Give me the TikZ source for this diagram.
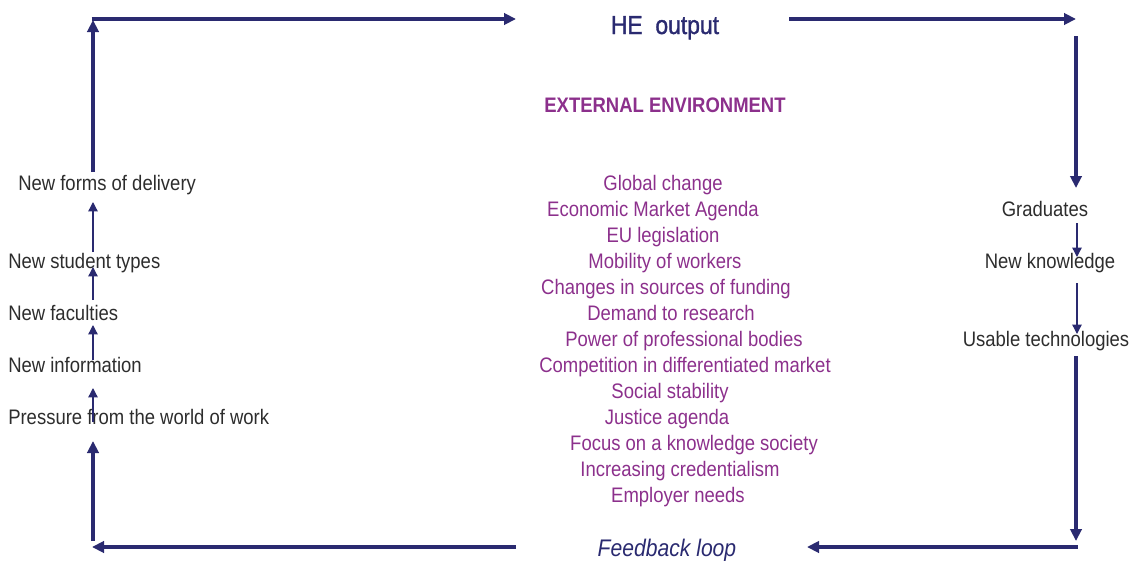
\documentclass[tikz,border=0pt]{standalone}
\usepackage{fontspec}
\setmainfont{Liberation Sans}[FakeStretch=0.88]
\newfontfamily\heavyfont{Liberation Sans}[FakeStretch=0.88,FakeBold=1.3]
\usetikzlibrary{arrows.meta}
\definecolor{navy}{RGB}{42,42,112}
\definecolor{purp}{RGB}{140,48,140}
\definecolor{txt}{RGB}{45,45,45}
\begin{document}
\begin{tikzpicture}[x=0.75pt,y=-0.75pt,
  bigarrow/.style={draw=navy,line width=3pt,-{Triangle[length=9pt,width=8.5pt]}},
  smallarrow/.style={draw=navy,line width=1pt,-{Triangle[length=7pt,width=7pt]}},
  body/.style={inner sep=0pt,font=\fontsize{15.75}{18}\selectfont},
  lefttxt/.style={body,text=txt,anchor=base west},
  righttxt/.style={body,text=txt,anchor=base},
  envitem/.style={body,text=purp,anchor=base}]
\useasboundingbox (0,0) rectangle (1133,564);

% titles
\node[inner sep=0pt,anchor=base,text=navy,font=\fontsize{19.5}{22}\heavyfont] (he) at (665,34) {HE\ \ output};
\node[body,anchor=base,text=purp,font=\fontsize{15.75}{18}\bfseries] (ext) at (665,112) {EXTERNAL ENVIRONMENT};
\node[inner sep=0pt,anchor=base,text=navy,font=\fontsize{18}{20}\itshape] (fb) at (667,556) {Feedback loop};

% environment list
\node[envitem] (e1) at (663,190) {Global change};
\node[envitem] (e2) at (653,216) {Economic Market Agenda};
\node[envitem] (e3) at (663,242) {EU legislation};
\node[envitem] (e4) at (665,268) {Mobility of workers};
\node[envitem] (e5) at (666,294) {Changes in sources of funding};
\node[envitem] (e6) at (671,320) {Demand to research};
\node[envitem] (e7) at (684,346) {Power of professional bodies};
\node[envitem] (e8) at (685,372) {Competition in differentiated market};
\node[envitem] (e9) at (670,398) {Social stability};
\node[envitem] (e10) at (667,424) {Justice agenda};
\node[envitem] (e11) at (694,450) {Focus on a knowledge society};
\node[envitem] (e12) at (680,476) {Increasing credentialism};
\node[envitem] (e13) at (678,502) {Employer needs};

% left column
\node[lefttxt] (l1) at (18,190) {New forms of delivery};
\node[lefttxt] (l2) at (8,268) {New student types};
\node[lefttxt] (l3) at (8,320) {New faculties};
\node[lefttxt] (l4) at (8,372) {New information};
\node[lefttxt] (l5) at (8,424) {Pressure from the world of work};

% right column
\node[righttxt] (r1) at (1045,216) {Graduates};
\node[righttxt] (r2) at (1050,268) {New knowledge};
\node[righttxt] (r3) at (1046,346) {Usable technologies};

% loop coordinates
\coordinate (a1) at (93,172);
\coordinate (a2) at (93,20);
\coordinate (a3) at (91.5,19);
\coordinate (a4) at (516,19);
\coordinate (b1) at (789,19);
\coordinate (b2) at (1076,19);
\coordinate (b3) at (1076,36);
\coordinate (b4) at (1076,188);
\coordinate (c1) at (1076,356);
\coordinate (c2) at (1076,541);
\coordinate (c3) at (1077.5,547);
\coordinate (c4) at (807,547);
\coordinate (d1) at (516,547);
\coordinate (d2) at (92,547);
\coordinate (d3) at (93,541);
\coordinate (d4) at (93,441);

\draw[bigarrow] (a1) -- (a2);
\draw[bigarrow] (a3) -- (a4);
\draw[bigarrow] (b1) -- (b2);
\draw[bigarrow] (b3) -- (b4);
\draw[bigarrow] (c1) -- (c2);
\draw[bigarrow] (c3) -- (c4);
\draw[bigarrow] (d1) -- (d2);
\draw[bigarrow] (d3) -- (d4);

% small arrows left
\coordinate (s1a) at (93,252); \coordinate (s1b) at (93,202);
\coordinate (s2a) at (93,300); \coordinate (s2b) at (93,267);
\coordinate (s3a) at (93,360); \coordinate (s3b) at (93,325);
\coordinate (s4a) at (93,422); \coordinate (s4b) at (93,388);
\draw[smallarrow] (s1a) -- (s1b);
\draw[smallarrow] (s2a) -- (s2b);
\draw[smallarrow] (s3a) -- (s3b);
\draw[smallarrow] (s4a) -- (s4b);

% small arrows right
\coordinate (t1a) at (1077,223); \coordinate (t1b) at (1077,257);
\coordinate (t2a) at (1077,283); \coordinate (t2b) at (1077,334);
\draw[smallarrow] (t1a) -- (t1b);
\draw[smallarrow] (t2a) -- (t2b);
\end{tikzpicture}
\end{document}
